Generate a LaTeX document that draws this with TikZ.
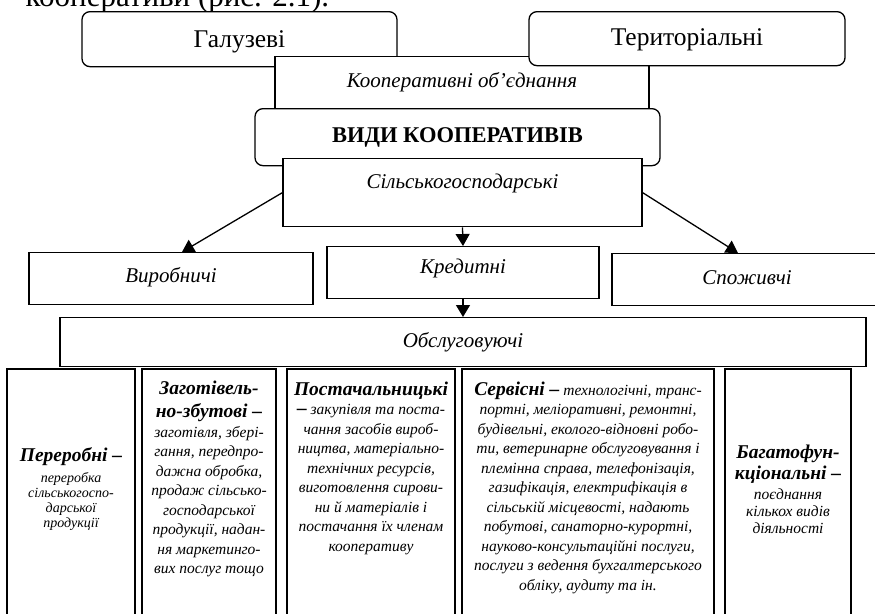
\documentclass[tikz,border=0pt]{standalone}
\usepackage{fontspec}
\setmainfont{Liberation Serif}
\usetikzlibrary{arrows.meta}

\newcommand{\cellhead}[1]{{\fontsize{19.5}{19.5}\selectfont\bfseries #1}}

\begin{document}
\begin{tikzpicture}[x=1pt, y=-1pt, line width=1.3pt,
    box/.style={draw, fill=white, inner xsep=0pt, inner ysep=0pt, anchor=north},
    roundbox/.style={box, rounded corners=8pt, font=\fontsize{25.5}{30}\selectfont},
    typebox/.style={box, font=\fontsize{21}{25}\selectfont\itshape},
    cellframe/.style={draw},
    cell/.style={align=center, inner sep=0pt, font=\fontsize{15.5}{19.5}\selectfont\itshape},
    arrow/.style={-{Triangle[width=14pt,length=12pt]}}]
    \useasboundingbox (0,0) rectangle (875,613);
    \clip (0,0) rectangle (875,613);

    % Text above the figure
    \node[anchor=base west, inner sep=0pt, font=\fontsize{31}{36}\selectfont] (intro) at (25,6) {кооперативи (рис. 2.1).};

    % Upper boxes
    \node[roundbox, minimum width=315pt, text height=36pt, text depth=19pt] (galuzevi) at (239.5,11) {Галузеві};
    \node[typebox, minimum width=374pt, text height=31pt, text depth=23pt] (obiednannia) at (462,56) {Кооперативні об’єднання};
    \node[roundbox, minimum width=316pt, text height=34pt, text depth=20pt] (terytorialni) at (687,11) {Територіальні};
    \node[roundbox, minimum width=405pt, text height=34pt, text depth=23pt, font=\fontsize{22.5}{27}\selectfont\bfseries] (vydy) at (457.5,108) {ВИДИ КООПЕРАТИВІВ};
    \node[typebox, minimum width=359pt, text height=30pt, text depth=38pt] (silskohospodarski) at (462.5,158) {Сільськогосподарські};

    % Second level
    \node[typebox, minimum width=284pt, text height=30pt, text depth=22pt] (vyrobnychi) at (171,252) {Виробничі};
    \node[typebox, minimum width=272pt, text height=27pt, text depth=25pt] (kredytni) at (463,246) {Кредитні};
    \node[typebox, minimum width=270pt, text height=31pt, text depth=21pt] (spozhyvchi) at (747,253) {Споживчі};
    \node[typebox, minimum width=806pt, text height=30pt, text depth=19pt] (obslugovuiuchi) at (463,317) {Обслуговуючі};

    % Arrows
    \draw[arrow] (silskohospodarski.west) -- ([xshift=11pt]vyrobnychi.north);
    \draw[arrow] (silskohospodarski.south) -- (kredytni.north);
    \draw[arrow] (silskohospodarski.east) -- ([xshift=-9pt]spozhyvchi.north);
    \draw[arrow] (kredytni.south) -- (obslugovuiuchi.north);

    % Service cells
    \draw[cellframe] (7,369) rectangle (135,640);
    \draw[cellframe] (142,369) rectangle (276,640);
    \draw[cellframe] (287,369) rectangle (455,640);
    \draw[cellframe] (462,369) rectangle (714,640);
    \draw[cellframe] (725,369) rectangle (851,640);

    \node[cell, font=\fontsize{14}{15}\selectfont\itshape] (pererobni) at (71,489) {\cellhead{Переробні –}\\[6pt]переробка\\сільськогоспо-\\дарської\\продукції};
    \node[cell, anchor=north] (zahotivelno) at (209,380) {\cellhead{Заготівель-}\\[4pt]\cellhead{но-збутові –}\\заготівля, збері-\\гання, передпро-\\дажна обробка,\\продаж сільсько-\\господарської\\продукції, надан-\\ня маркетинго-\\вих послуг тощо};
    \node[cell, anchor=north] (postachalnytski) at (371,381) {\cellhead{Постачальницькі}\\\cellhead{–} закупівля та поста-\\чання засобів вироб-\\ництва, матеріально-\\технічних ресурсів,\\виготовлення сирови-\\ни й матеріалів і\\постачання їх членам\\кооперативу};
    \node[cell, anchor=north] (servisni) at (588,381) {\cellhead{Сервісні –} технологічні, транс-\\портні, меліоративні, ремонтні,\\будівельні, еколого-відновні робо-\\ти, ветеринарне обслуговування і\\племінна справа, телефонізація,\\газифікація, електрифікація в\\сільській місцевості, надають\\побутові, санаторно-курортні,\\науково-консультаційні послуги,\\послуги з ведення бухгалтерського\\обліку, аудиту та ін.};
    \node[cell, font=\fontsize{15.5}{17}\selectfont\itshape] (bahatofunktsionalni) at (788,489) {\cellhead{Багатофун-}\\[2pt]\cellhead{кціональні –}\\[3pt]поєднання\\кількох видів\\діяльності};
\end{tikzpicture}
\end{document}
